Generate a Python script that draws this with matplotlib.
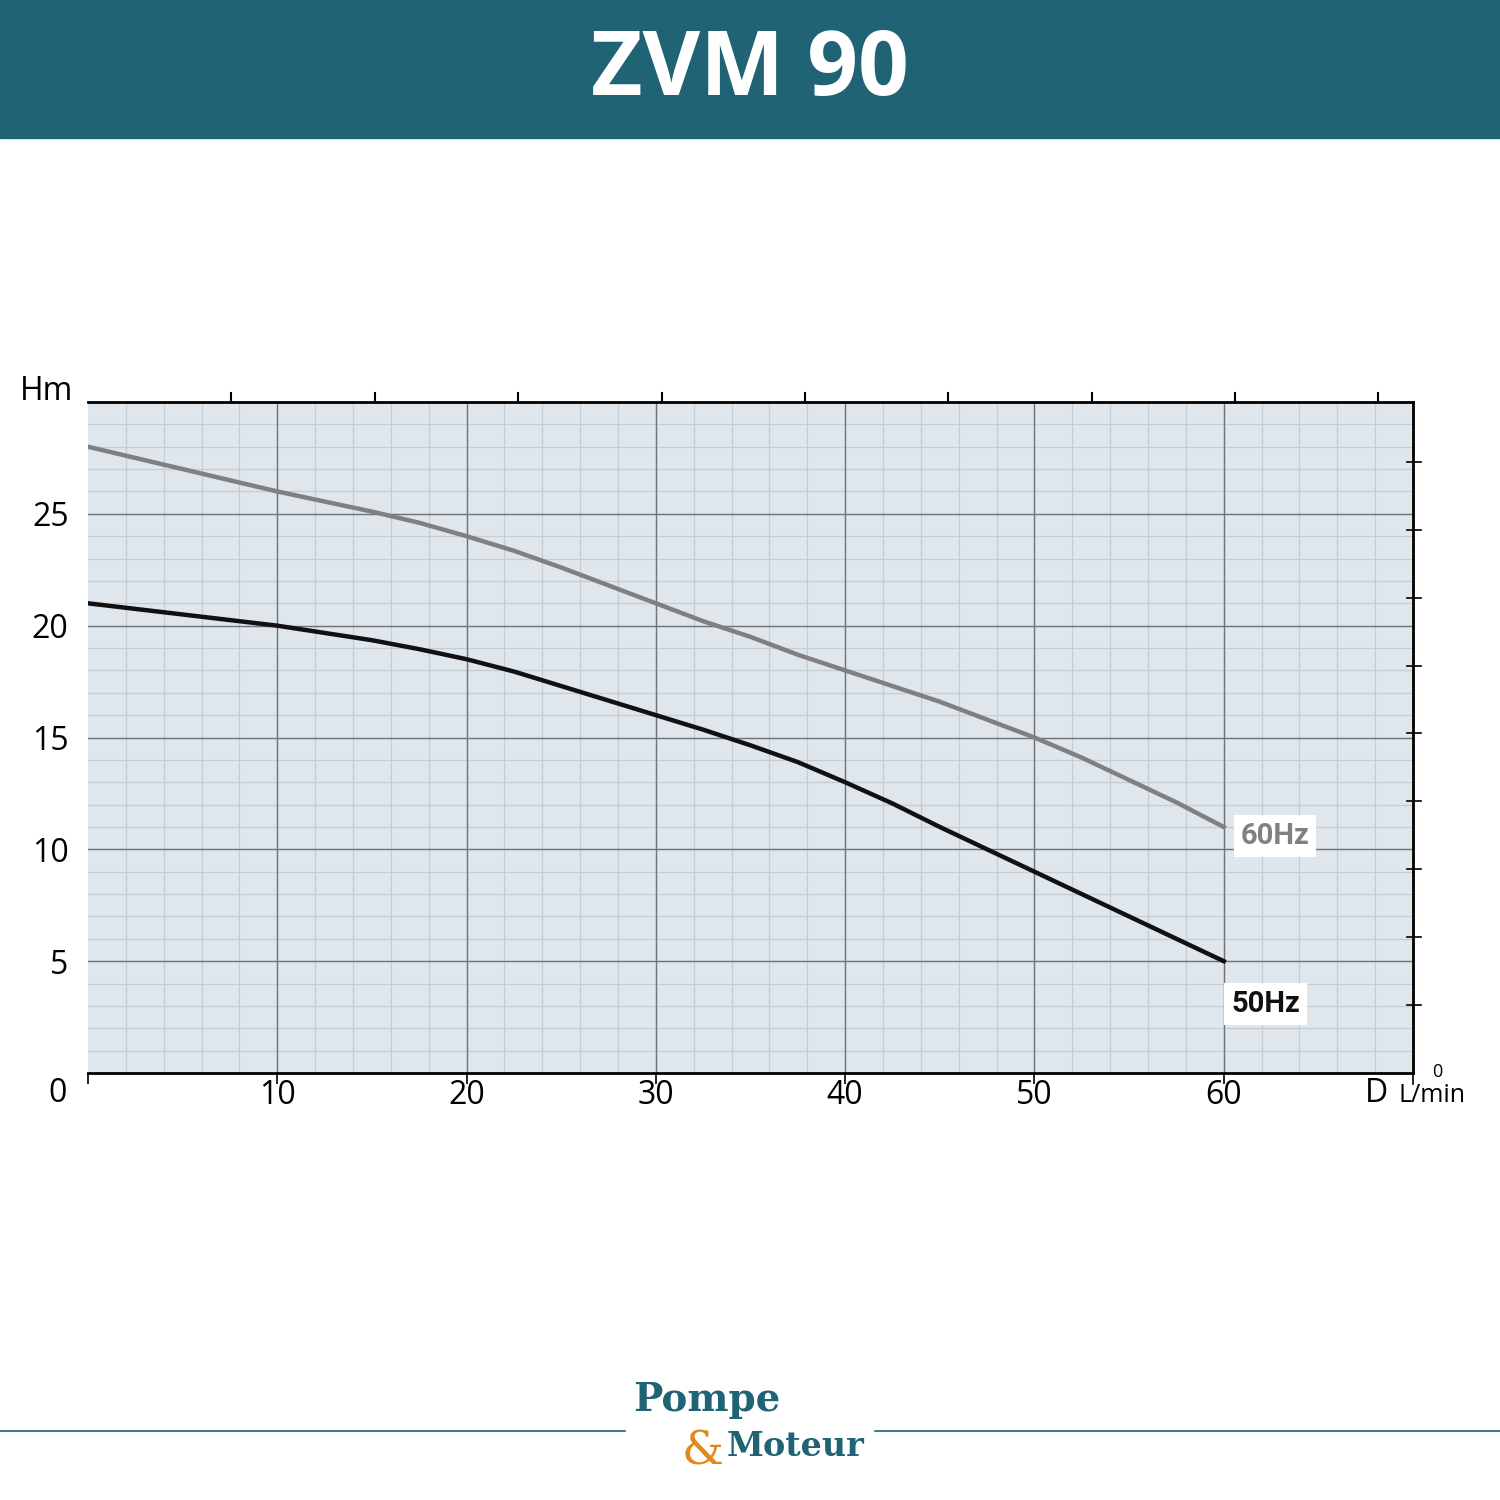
import matplotlib
matplotlib.use("Agg")
import matplotlib.pyplot as plt
import numpy as np
from matplotlib.patches import Rectangle

flow_60 = [0, 5, 10, 15, 17.5, 20, 22.5, 25, 27.5, 30, 32.5, 35, 37.5, 40, 45, 50, 52.5, 55, 57.5, 60]
head_60 = [28, 27, 26, 25.1, 24.6, 24, 23.35, 22.6, 21.8, 21, 20.2, 19.5, 18.7, 18, 16.6, 15, 14.1, 13.1, 12.1, 11]
flow_50 = [0, 5, 10, 15, 17.5, 20, 22.5, 25, 27.5, 30, 32.5, 35, 37.5, 40, 42.5, 45, 50, 55, 60]
head_50 = [21, 20.5, 20, 19.35, 18.95, 18.5, 17.95, 17.3, 16.65, 16, 15.35, 14.65, 13.9, 13, 12.05, 11, 9, 7, 5]
x_ticks = [10, 20, 30, 40, 50, 60]
y_ticks = [5, 10, 15, 20, 25]

fig = plt.figure(figsize=(15, 15), dpi=100)
teal = "#1f6375"
fig.patches.append(Rectangle((0, 1 - 138/1500), 1, 138/1500, transform=fig.transFigure, color=teal, zorder=0))
fig.text(0.5, 1 - 72/1500, "ZVM 90", color="white", fontsize=64, fontweight="bold",
         family="Open Sans", ha="center", va="center")

ax = fig.add_axes([88/1500, 1 - 1073/1500, (1413-88)/1500, (1073-402)/1500])
ax.set_facecolor("#dfe6ec")
ax.set_xlim(0, 70)
ax.set_ylim(0, 30)
for v in np.arange(2, 70, 2):
    ax.axvline(v, color="#c4ccd4", lw=0.9, zorder=1)
for v in np.arange(1, 30, 1):
    ax.axhline(v, color="#c4ccd4", lw=0.9, zorder=1)
for v in x_ticks:
    ax.axvline(v, color="#6e7479", lw=1.0, zorder=1.5)
for v in y_ticks:
    ax.axhline(v, color="#6e7479", lw=1.0, zorder=1.5)

ax.plot(flow_60, head_60, color="#808080", lw=3.2, zorder=3, solid_joinstyle="round")
ax.plot(flow_50, head_50, color="#111111", lw=3.2, zorder=3, solid_joinstyle="round")
ax.text(60.9, 10.6, "60Hz", color="#808080", fontsize=21, fontweight="bold", family="Roboto",
        va="center", ha="left", bbox=dict(facecolor="white", edgecolor="none", pad=5), zorder=4)
ax.text(60.4, 3.1, "50Hz", color="#111111", fontsize=21, fontweight="bold", family="Roboto",
        va="center", ha="left", bbox=dict(facecolor="white", edgecolor="none", pad=5), zorder=4)

for s in ["left", "right"]:
    ax.spines[s].set_visible(False)
ax.spines["top"].set_linewidth(2)
ax.spines["bottom"].set_linewidth(2)
ax.set_xticks([0] + x_ticks)
ax.set_xticklabels(["0"] + [str(v) for v in x_ticks])
ax.set_yticks(y_ticks)
ax.tick_params(axis="x", length=8, width=1.2, labelsize=23, pad=-4)
ax.tick_params(axis="y", length=0, labelsize=23, pad=14)
for lab in ax.get_xticklabels() + ax.get_yticklabels():
    lab.set_family("Open Sans")
ax.get_xticklabels()[0].set_visible(False)
fig.text(58/1500, 1 - 1093/1500, "0", fontsize=23, family="Open Sans", ha="center", va="center")
fig.text(47/1500, 1 - 391/1500, "Hm", fontsize=23, family="Open Sans", ha="center", va="center")
fig.text(1377/1500, 1 - 1094/1500, "D", fontsize=23, family="Open Sans", ha="center", va="center")
fig.text(1432/1500, 1 - 1095/1500, "L/min", fontsize=18, family="Open Sans", ha="center", va="center")
fig.text(1437/1500, 1 - 1072/1500, "0", fontsize=13, family="Open Sans", ha="center", va="center")

for k in range(1, 10):
    ax.plot([7.575*k]*2, [30, 30.4], color="black", lw=1.5, clip_on=False)
ax.plot([70, 70], [0, 30], color="black", lw=2, clip_on=False, zorder=5)
for k in range(1, 10):
    ax.plot([69.7, 70.4], [3.036*k]*2, color="black", lw=1.2, clip_on=False)
ax.plot([70, 70], [-0.5, 0], color="black", lw=1.2, clip_on=False)

fig.lines.append(plt.Line2D([0, 625/1500], [1-1431/1500]*2, color=teal, lw=1.2, transform=fig.transFigure))
fig.lines.append(plt.Line2D([875/1500, 1], [1-1431/1500]*2, color=teal, lw=1.2, transform=fig.transFigure))
fig.text(707/1500, 1 - 1400/1500, "Pompe", color=teal, fontsize=28, fontweight="bold", family="DejaVu Serif",
         ha="center", va="center")
fig.text(703/1500, 1 - 1452/1500, "&", color="#e08a1e", fontsize=34, family="DejaVu Serif", ha="center", va="center")
fig.text(796/1500, 1 - 1447/1500, "Moteur", color=teal, fontsize=24, fontweight="bold", family="DejaVu Serif",
         ha="center", va="center")

fig.savefig("out.png", dpi=100)
